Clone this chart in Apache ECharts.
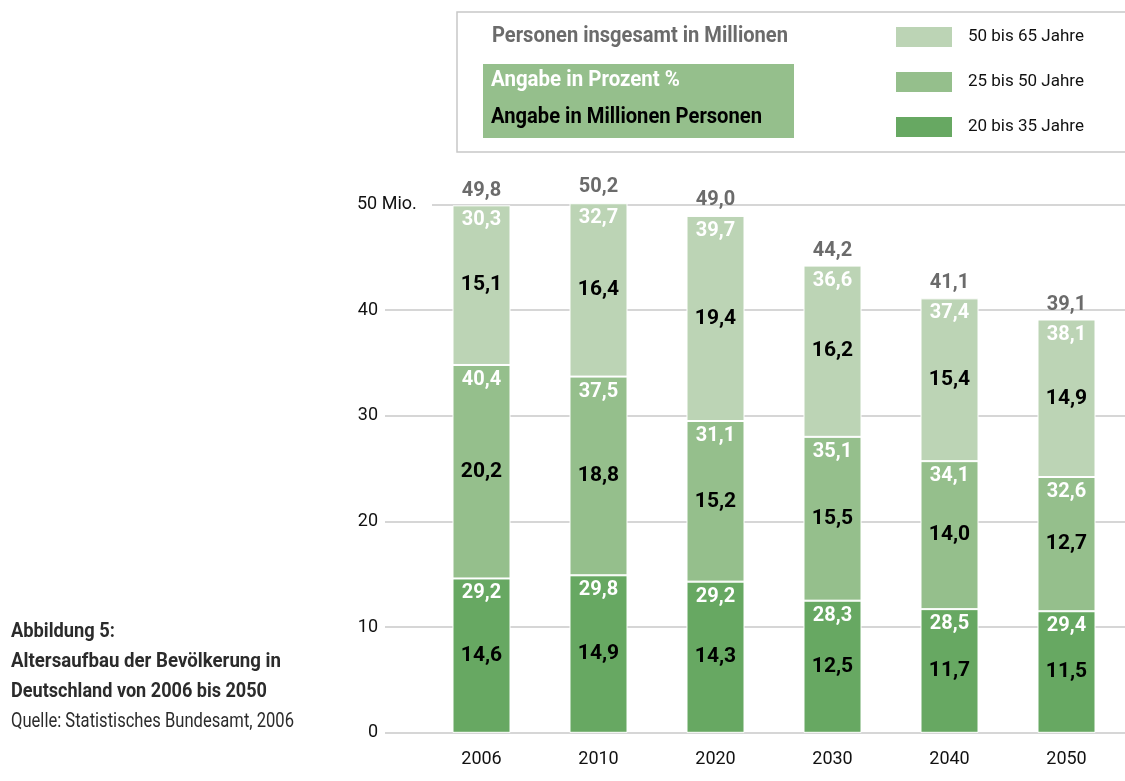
<!DOCTYPE html>
<html><head><meta charset="utf-8">
<script src="https://cdn.jsdelivr.net/npm/echarts@6/dist/echarts.min.js"></script>
<style>html,body{margin:0;padding:0;background:#fff}#c{width:1125px;height:781px}</style>
</head><body><div id="c"></div>
<script>
const years = ['2006','2010','2020','2030','2040','2050'];
const young = [14.6,14.9,14.3,12.5,11.7,11.5];
const middle = [20.2,18.8,15.2,15.5,14.0,12.7];
const old = [15.1,16.4,19.4,16.2,15.4,14.9];
const totals = [49.8,50.2,49.0,44.2,41.1,39.1];
const pctYoung = [29.2,29.8,29.2,28.3,28.5,29.4];
const pctMiddle = [40.4,37.5,31.1,35.1,34.1,32.6];
const pctOld = [30.3,32.7,39.7,36.6,37.4,38.1];
const seriesNames = ['20 bis 35 Jahre','25 bis 50 Jahre','50 bis 65 Jahre'];
const yTicks = [0,10,20,30,40,50];

const FONT = 'Roboto, "Liberation Sans", sans-serif';
const colors = ['#67a862','#95bf8c','#bcd4b5'];
const fmt = v => v.toFixed(1).replace('.', ',');
const GRID_TOP = 204.3, GRID_BOTTOM = 48.2;
const BW = 58;

const mctx = document.createElement('canvas').getContext('2d');
function fitText(text, font, x, y, width, fill) {
  mctx.font = font;
  const s = width / mctx.measureText(text).width;
  return { type: 'text', x, y, scaleX: s, scaleY: 1, z: 10,
    style: { text, font, fill, x: 0, y: 0, verticalAlign: 'middle', textVerticalAlign: 'middle', align: 'left' } };
}

function valueSeries(name, data, color) {
  return {
    name, type: 'bar', stack: 'v', data, barWidth: BW, barGap: '-100%', clip: false,
    xAxisIndex: 0, yAxisIndex: 0,
    itemStyle: { color, borderColor: '#fff', borderWidth: 1 },
    label: { show: true, position: 'inside', color: '#000', fontFamily: FONT, fontWeight: 'bold', fontSize: 21,
      formatter: p => fmt(p.value) }
  };
}
function pctSeries(data, pct) {
  return {
    type: 'bar', stack: 'p', data, barWidth: BW, barGap: '-100%', clip: false, silent: true,
    xAxisIndex: 0, yAxisIndex: 0,
    itemStyle: { color: 'rgba(0,0,0,0)' },
    label: { show: true, position: 'insideTop', distance: 5, color: '#fff', fontFamily: FONT, fontWeight: 'bold', fontSize: 20,
      formatter: p => fmt(pct[p.dataIndex]) }
  };
}
const lineCol = '#c8c8c8';
const BOLD = 'bold 21px ' + FONT;

const option = {
  animation: false,
  backgroundColor: '#fff',
  grid: [
    { left: 423, width: 710, top: GRID_TOP, bottom: GRID_BOTTOM },
    { left: 385, right: 0, top: GRID_TOP, bottom: GRID_BOTTOM },
    { left: 432, right: 0, top: GRID_TOP, bottom: GRID_BOTTOM }
  ],
  xAxis: [
    { type: 'category', gridIndex: 0, data: years, axisLine: { show: false }, axisTick: { show: false },
      axisLabel: { color: '#111', fontFamily: FONT, fontSize: 18, margin: 18 } },
    { type: 'value', gridIndex: 1, show: false, min: 0, max: 1 },
    { type: 'value', gridIndex: 2, show: false, min: 0, max: 1 }
  ],
  yAxis: [
    { type: 'value', gridIndex: 0, min: 0, max: 50, interval: 10, show: false },
    { type: 'value', gridIndex: 1, min: 0, max: 50, interval: 10,
      axisLine: { show: false }, axisTick: { show: false },
      axisLabel: { align: 'right', margin: 7, color: '#111', fontFamily: FONT, fontSize: 18,
        formatter: v => (v === 50 ? '' : String(v)) },
      splitLine: { show: true, lineStyle: { width: 1.5, color: yTicks.map(t => t === 50 ? 'rgba(0,0,0,0)' : lineCol) } } },
    { type: 'value', gridIndex: 2, min: 0, max: 50, interval: 10,
      axisLine: { show: false }, axisTick: { show: false },
      axisLabel: { align: 'left', margin: 75, color: '#111', fontFamily: FONT, fontSize: 18,
        formatter: v => (v === 50 ? '50 Mio.' : '') },
      splitLine: { show: true, lineStyle: { width: 1.5, color: yTicks.map(t => t === 50 ? lineCol : 'rgba(0,0,0,0)') } } }
  ],
  legend: {
    data: [seriesNames[2], seriesNames[1], seriesNames[0]],
    orient: 'vertical', left: 894, top: 25, padding: 0, itemWidth: 58, itemHeight: 22, itemGap: 21,
    icon: 'rect', selectedMode: false,
    textStyle: { color: '#111', fontFamily: FONT, fontSize: 17, padding: [0, 0, 0, 10] }
  },
  graphic: [
    { type: 'rect', x: 457, y: 12, shape: { width: 720, height: 140 }, style: { fill: 'none', stroke: '#c8c8c8', lineWidth: 1.5 }, z: -1 },
    { type: 'rect', x: 483, y: 64, shape: { width: 311, height: 74 }, style: { fill: '#95bf8c' }, z: -1 },
    fitText('Personen insgesamt in Millionen', 'bold 22px ' + FONT, 492, 36, 296, '#6b6b6b'),
    fitText('Angabe in Prozent %', 'bold 22px ' + FONT, 491, 80, 189, '#fff'),
    fitText('Angabe in Millionen Personen', 'bold 22px ' + FONT, 491, 117, 271, '#000'),
    fitText('Abbildung 5:', BOLD, 11, 632, 104, '#2b2b2b'),
    fitText('Altersaufbau der Bevölkerung in', BOLD, 11, 662, 270, '#2b2b2b'),
    fitText('Deutschland von 2006 bis 2050', BOLD, 11, 692, 256, '#2b2b2b'),
    fitText('Quelle: Statistisches Bundesamt, 2006', '20px ' + FONT, 11, 722, 283, '#2b2b2b')
  ],
  series: [
    valueSeries(seriesNames[0], young, colors[0]),
    valueSeries(seriesNames[1], middle, colors[1]),
    valueSeries(seriesNames[2], old, colors[2]),
    pctSeries(young, pctYoung),
    pctSeries(middle, pctMiddle),
    pctSeries(old, pctOld),
    {
      type: 'bar', stack: 't', data: totals, barWidth: BW, barGap: '-100%', clip: false, silent: true,
      xAxisIndex: 0, yAxisIndex: 0, itemStyle: { color: 'rgba(0,0,0,0)' },
      label: { show: true, position: 'top', distance: 5, color: '#6b6b6b', fontFamily: FONT, fontWeight: 'bold', fontSize: 20,
        formatter: p => fmt(p.value) }
    }
  ]
};
const chart = echarts.init(document.getElementById('c'), null, { renderer: 'canvas' });
chart.setOption(option);
</script></body></html>
